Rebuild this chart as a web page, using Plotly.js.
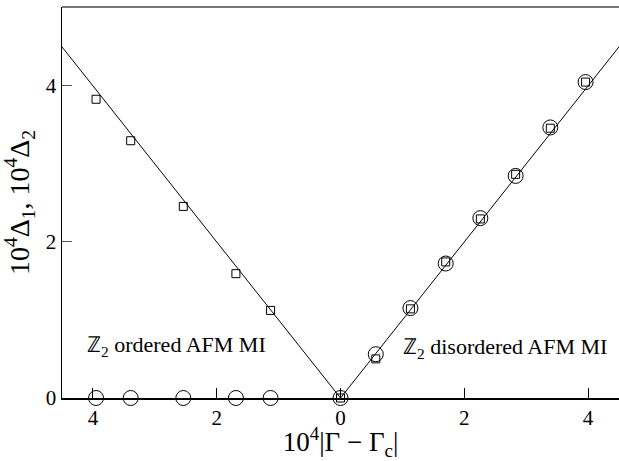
<!DOCTYPE html>
<html>
<head>
<meta charset="utf-8">
<script src="https://cdn.plot.ly/plotly-3.0.1.min.js"></script>
<style>
  html, body { margin: 0; padding: 0; background: #fff; }
  #plot { width: 619px; height: 461px; }
</style>
</head>
<body>
<div id="plot"></div>
<script>
// Signed distance from the critical point: negative = ordered side, positive = disordered side
const orderedX   = [-3.95, -3.39, -2.54, -1.69, -1.13];
const orderedD2  = [3.82, 3.29, 2.45, 1.59, 1.12];   // squares
const orderedD1  = [0, 0, 0, 0, 0];                   // circles on the axis

const criticalX  = [0];
const criticalD  = [0];

const disorderedX  = [0.57, 1.13, 1.70, 2.26, 2.83, 3.39, 3.96];
const disorderedD1 = [0.56, 1.15, 1.72, 2.30, 2.84, 3.46, 4.04];  // circles
const disorderedD2 = [0.50, 1.14, 1.74, 2.29, 2.86, 3.45, 4.04];  // squares

// Linear fits on both sides of the transition
const fitLeftX  = [-4.5, 0];
const fitLeftY  = [4.49, 0];
const fitRightX = [0, 4.5];
const fitRightY = [0, 4.49];

const tickVals  = [-4, -2, 0, 2, 4];
const tickText  = ['4', '2', '0', '2', '4'];
const yTickVals = [0, 2, 4];

const serif = 'Liberation Serif';

const circleMarker = { symbol: 'circle-open', size: 15, color: '#000', line: { width: 1, color: '#000' } };
const squareMarker = { symbol: 'square-open', size: 8, color: '#000', line: { width: 1, color: '#000' } };

const traces = [
  { x: fitLeftX, y: fitLeftY, mode: 'lines', line: { color: '#000', width: 1 }, hoverinfo: 'skip' },
  { x: fitRightX, y: fitRightY, mode: 'lines', line: { color: '#000', width: 1 }, hoverinfo: 'skip' },
  { x: orderedX, y: orderedD2, mode: 'markers', marker: squareMarker, cliponaxis: false },
  { x: orderedX, y: orderedD1, mode: 'markers', marker: circleMarker, cliponaxis: false },
  { x: criticalX, y: criticalD, mode: 'markers', marker: squareMarker, cliponaxis: false },
  { x: criticalX, y: criticalD, mode: 'markers', marker: circleMarker, cliponaxis: false },
  { x: disorderedX, y: disorderedD2, mode: 'markers', marker: squareMarker, cliponaxis: false },
  { x: disorderedX, y: disorderedD1, mode: 'markers', marker: circleMarker, cliponaxis: false }
];

const layout = {
  width: 619,
  height: 461,
  margin: { l: 62, r: 0, t: 7, b: 63 },
  paper_bgcolor: '#fff',
  plot_bgcolor: '#fff',
  showlegend: false,
  font: { family: serif, color: '#000', size: 21 },
  xaxis: {
    range: [-4.5, 4.5],
    tickvals: tickVals,
    ticktext: tickText,
    ticks: 'inside',
    ticklen: 10,
    tickwidth: 1,
    tickcolor: '#000',
    showline: true,
    linecolor: '#000',
    linewidth: 1.5,
    showgrid: false,
    zeroline: false,
    tickfont: { family: serif, size: 21 },
    title: { text: '10<sup>4</sup>|Γ − Γ<sub>c</sub>|', font: { family: serif, size: 27 }, standoff: 5 }
  },
  yaxis: {
    range: [0, 5],
    tickvals: yTickVals,
    ticks: 'inside',
    ticklen: 10,
    tickwidth: 1,
    tickcolor: '#555',
    showline: true,
    linecolor: '#000',
    linewidth: 1.5,
    showgrid: false,
    zeroline: false,
    tickfont: { family: serif, size: 21 },
    title: { text: '10<sup>4</sup>Δ<sub>1</sub>, 10<sup>4</sup>Δ<sub>2</sub>', font: { family: serif, size: 28 }, standoff: 8 }
  },
  shapes: [
    { type: 'line', xref: 'paper', yref: 'paper', x0: 0, x1: 1, y0: 1, y1: 1,
      line: { color: '#777', width: 2 } }
  ],
  annotations: [
    { x: -2.65, y: 0.66, xref: 'x', yref: 'y', showarrow: false,
      text: 'ℤ<sub>2</sub> ordered AFM MI', font: { family: serif, size: 22 } },
    { x: 2.66, y: 0.64, xref: 'x', yref: 'y', showarrow: false,
      text: 'ℤ<sub>2</sub> disordered AFM MI', font: { family: serif, size: 22 } }
  ]
};

Plotly.newPlot('plot', traces, layout, { staticPlot: true, displayModeBar: false });
</script>
</body>
</html>
